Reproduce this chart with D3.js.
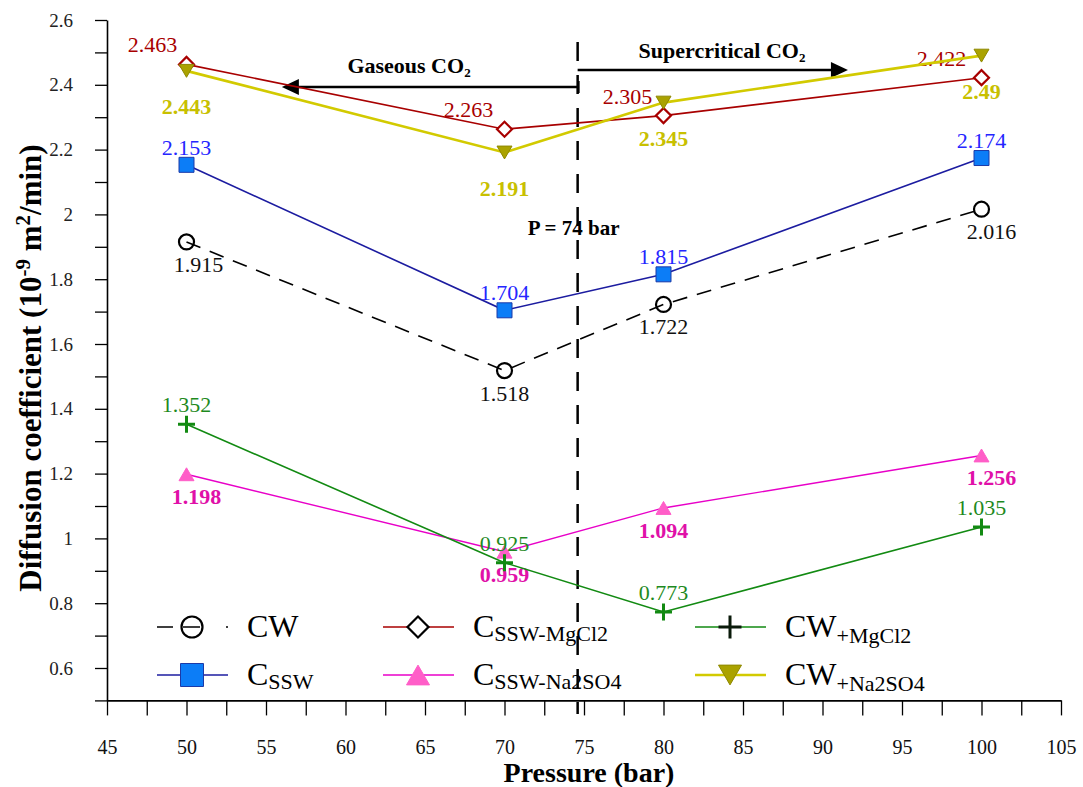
<!DOCTYPE html>
<html>
<head>
<meta charset="utf-8">
<script src="https://d3js.org/d3.v7.min.js"></script>
<style>
	body { margin: 0; background: #fff; }
	svg { display: block; font-family: "Liberation Serif", serif; }
	.tick text { font-family: "Liberation Serif", serif !important; }
</style>
</head>
<body>
<div id="chart-div"></div>
<script>
//Values

	//Pressure (bar) of every measurement
	var pressures = [50, 70, 80, 100];

	//Diffusion coefficients (10^-9 m2/min)
	var cw = [1.915, 1.518, 1.722, 2.016];
	var cssw = [2.153, 1.704, 1.815, 2.174];
	var csswMgCl2 = [2.463, 2.263, 2.305, 2.422];
	var csswNa2SO4 = [1.198, 0.959, 1.094, 1.256];
	var cwMgCl2 = [1.352, 0.925, 0.773, 1.035];
	var cwNa2SO4 = [2.443, 2.191, 2.345, 2.49];

	//Axis ticks
	var xTickLabels = [45, 50, 55, 60, 65, 70, 75, 80, 85, 90, 95, 100, 105];
	var yTickLabels = [0.6, 0.8, 1, 1.2, 1.4, 1.6, 1.8, 2, 2.2, 2.4, 2.6];

	//Phase boundary marker and the arrow ends (bar)
	var boundaryPressure = 74.6;
	var gaseousArrowEnd = 56;
	var supercriticalArrowEnd = 91.6;

//Series styles (kept apart from the values)
	var series = [
		{ key: "cw", values: cw, color: "#000", width: 1.6, dash: "15,10", marker: "circle", fill: "none", mstroke: "#000",
		  label: "#111", bold: false, dx: 0, dy: 30, nudge: [12, 0, 0, 10] },
		{ key: "cssw", values: cssw, color: "#1c1ca0", width: 1.6, dash: null, marker: "square", fill: "#0c7df7", mstroke: "#1c3aa8",
		  label: "#2525ff", bold: false, dx: 0, dy: -10, nudge: [0, 0, 0, 0] },
		{ key: "csswMg", values: csswMgCl2, color: "#a80000", width: 1.6, dash: null, marker: "diamond", fill: "#fff", mstroke: "#a80000",
		  label: "#a80000", bold: false, dx: -36, dy: -12, nudge: [2, 0, 0, -4] },
		{ key: "csswNa", values: csswNa2SO4, color: "#e800c8", width: 1.4, dash: null, marker: "triUp", fill: "#ff5ec8", mstroke: "#ff5ec8",
		  label: "#e010a8", bold: true, dx: 0, dy: 30, nudge: [10, 0, 0, 10] },
		{ key: "cwMg", values: cwMgCl2, color: "#128a12", width: 1.6, dash: null, marker: "plus", fill: "none", mstroke: "#128a12",
		  label: "#1e8a1e", bold: false, dx: 0, dy: -12, nudge: [0, 0, 0, 0] },
		{ key: "cwNa", values: cwNa2SO4, color: "#d2ca00", width: 2.6, dash: null, marker: "triDown", fill: "#aaa200", mstroke: "#8e8800",
		  label: "#c8c000", bold: true, dx: 0, dy: 43, nudge: [0, 0, 0, 0] }
	];

	//Legend entries: two rows of three
	var legendItems = [
		{ key: "cw", main: "CW", sub: "" },
		{ key: "csswMg", main: "C", sub: "SSW-MgCl2" },
		{ key: "cwMg", main: "CW", sub: "+MgCl2" },
		{ key: "cssw", main: "C", sub: "SSW" },
		{ key: "csswNa", main: "C", sub: "SSW-Na2SO4" },
		{ key: "cwNa", main: "CW", sub: "+Na2SO4" }
	];

//Canvas
	var w = 1083, h = 787;
	var svg = d3.select("#chart-div").append("svg")
		.attr("width", w)
		.attr("height", h);

	//Scales
	var x = d3.scaleLinear().domain([45, 105]).range([107, 1061]);
	var y = d3.scaleLinear().domain([0.5, 2.6]).range([700.4, 20]);

	//Marker shapes
	function markerPath(type, s) {
		switch (type) {
			case "circle": return d3.symbol(d3.symbolCircle, Math.PI * s * s / 4)();
			case "square": return d3.symbol(d3.symbolSquare, s * s)();
			case "diamond": return d3.symbol(d3.symbolSquare, s * s / 2)();
			case "triUp": return "M0," + (-s * 0.43) + "L" + (s / 2) + "," + (s * 0.43) + "L" + (-s / 2) + "," + (s * 0.43) + "Z";
			case "triDown": return "M0," + (s * 0.43) + "L" + (s / 2) + "," + (-s * 0.43) + "L" + (-s / 2) + "," + (-s * 0.43) + "Z";
			case "plus": return "M" + (-s / 2) + ",0H" + (s / 2) + "M0," + (-s / 2) + "V" + (s / 2);
		}
	}

	function drawMarker(g, st, s, cx, cy, strokeOverride) {
		g.append("path")
			.attr("d", markerPath(st.marker, s))
			.attr("transform", "translate(" + cx + "," + cy + ")" + (st.marker === "diamond" ? " rotate(45)" : ""))
			.attr("fill", st.fill)
			.attr("stroke", strokeOverride || st.mstroke)
			.attr("stroke-width", st.marker === "plus" ? 3 : (st.marker === "circle" || st.marker === "diamond" ? 2.2 : 1));
	}

//Axes
	var xAxis = d3.axisBottom(x)
		.tickValues(d3.range(45, 105.01, 2.5))
		.tickSize(15).tickSizeOuter(0).tickPadding(24)
		.tickFormat(function(d) { return xTickLabels.indexOf(d) >= 0 ? String(d) : ""; });

	var gx = svg.append("g")
		.attr("transform", "translate(0," + y(0.5) + ")")
		.call(xAxis)
		.attr("font-family", "Liberation Serif");
	gx.selectAll("text").attr("font-family", "Liberation Serif").attr("font-size", 20).attr("fill", "#111");

	var yAxis = d3.axisLeft(y)
		.tickValues(d3.range(5, 26.01, 1).map(function(d) { return d / 10; }))
		.tickSize(12).tickSizeOuter(0).tickPadding(22)
		.tickFormat(function(d) {
			var hit = yTickLabels.filter(function(t) { return Math.abs(t - d) < 1e-6; });
			return hit.length ? String(hit[0]) : "";
		});

	var gy = svg.append("g")
		.attr("transform", "translate(" + x(45) + ",0)")
		.call(yAxis)
		.attr("font-family", "Liberation Serif");
	gy.selectAll("text").attr("font-family", "Liberation Serif").attr("font-size", 19).attr("fill", "#222");

	svg.selectAll(".domain").attr("stroke", "#000").attr("stroke-width", 1.6);
	svg.selectAll(".tick line").attr("stroke", "#000").attr("stroke-width", 1.3);

	//Axis titles
	svg.append("text")
		.attr("x", 589).attr("y", 782)
		.attr("text-anchor", "middle")
		.attr("font-size", 28).attr("font-weight", "bold")
		.text("Pressure (bar)");

	var yTitle = svg.append("text")
		.attr("transform", "translate(41,368) rotate(-90)")
		.attr("text-anchor", "middle")
		.attr("font-size", 31).attr("font-weight", "bold");
	yTitle.append("tspan").text("Diffusion coefficient (10");
	yTitle.append("tspan").attr("font-size", 21).attr("dy", -11).text("-9");
	yTitle.append("tspan").attr("dy", 11).text(" m");
	yTitle.append("tspan").attr("font-size", 21).attr("dy", -11).text("2");
	yTitle.append("tspan").attr("dy", 11).text("/min)");

//Phase annotations
	var bx = x(boundaryPressure);

	svg.append("line")
		.attr("x1", bx).attr("x2", bx)
		.attr("y1", 42).attr("y2", 714)
		.attr("stroke", "#000").attr("stroke-width", 2.5)
		.attr("stroke-dasharray", "19,14");

	svg.append("text")
		.attr("x", bx - 4).attr("y", 235)
		.attr("text-anchor", "middle")
		.attr("font-size", 21).attr("font-weight", "bold")
		.text("P = 74 bar");

	//Gaseous arrow (points left)
	var gy1 = 87, gTip = x(gaseousArrowEnd);
	svg.append("line").attr("x1", bx).attr("x2", gTip + 16).attr("y1", gy1).attr("y2", gy1)
		.attr("stroke", "#000").attr("stroke-width", 2.5);
	svg.append("line").attr("x1", bx + 1).attr("x2", bx + 1).attr("y1", gy1 - 6).attr("y2", gy1 + 6)
		.attr("stroke", "#000").attr("stroke-width", 2);
	svg.append("path")
		.attr("d", "M" + gTip + "," + gy1 + "L" + (gTip + 17) + "," + (gy1 - 8) + "L" + (gTip + 17) + "," + (gy1 + 8) + "Z")
		.attr("fill", "#000");
	var gText = svg.append("text")
		.attr("x", 409).attr("y", 73)
		.attr("text-anchor", "middle")
		.attr("font-size", 22).attr("font-weight", "bold");
	gText.append("tspan").text("Gaseous CO");
	gText.append("tspan").attr("font-size", 13).attr("dy", 4).text("2");

	//Supercritical arrow (points right)
	var sy1 = 70, sTip = x(supercriticalArrowEnd);
	svg.append("line").attr("x1", bx).attr("x2", sTip - 16).attr("y1", sy1).attr("y2", sy1)
		.attr("stroke", "#000").attr("stroke-width", 2.5);
	svg.append("path")
		.attr("d", "M" + sTip + "," + sy1 + "L" + (sTip - 17) + "," + (sy1 - 8) + "L" + (sTip - 17) + "," + (sy1 + 8) + "Z")
		.attr("fill", "#000");
	var sText = svg.append("text")
		.attr("x", 722).attr("y", 58)
		.attr("text-anchor", "middle")
		.attr("font-size", 22).attr("font-weight", "bold");
	sText.append("tspan").text("Supercritical CO");
	sText.append("tspan").attr("font-size", 13).attr("dy", 4).text("2");

//Series lines, markers and value labels
	var line = d3.line()
		.x(function(d) { return x(d.p); })
		.y(function(d) { return y(d.v); });

	series.forEach(function(st) {
		var pts = pressures.map(function(p, i) { return { p: p, v: st.values[i] }; });
		var g = svg.append("g").attr("class", "series " + st.key);

		g.append("path")
			.datum(pts)
			.attr("d", line)
			.attr("fill", "none")
			.attr("stroke", st.color)
			.attr("stroke-width", st.width)
			.attr("stroke-dasharray", st.dash);

		pts.forEach(function(d) {
			drawMarker(g, st, st.marker === "plus" ? 17 : 15, x(d.p), y(d.v));
		});

		g.selectAll("text.val")
			.data(pts)
			.enter()
		.append("text")
			.attr("class", "val")
			.attr("x", function(d, i) { return x(d.p) + st.dx + st.nudge[i]; })
			.attr("y", function(d) { return y(d.v) + st.dy; })
			.attr("text-anchor", "middle")
			.attr("font-size", 22)
			.attr("font-weight", st.bold ? "bold" : "normal")
			.attr("fill", st.label)
			.text(function(d) { return String(d.v); });
	});

//Legend
	var legendCols = [157, 383, 695], legendRows = [627, 675];
	var legend = svg.append("g").attr("class", "legend");

	legendItems.forEach(function(item, i) {
		var st = series.filter(function(s) { return s.key === item.key; })[0];
		var lx = legendCols[i % 3], ly = legendRows[Math.floor(i / 3)];

		legend.append("line")
			.attr("x1", lx).attr("x2", lx + 71).attr("y1", ly).attr("y2", ly)
			.attr("stroke", st.color).attr("stroke-width", st.width)
			.attr("stroke-dasharray", st.dash ? "16,10,17,26,3" : null);

		var size = st.marker === "circle" ? 21 : (st.marker === "diamond" ? 21 : 23);
		drawMarker(legend, st, size, lx + 35, ly, st.marker === "plus" ? "#0a1a0a" : (st.marker === "diamond" ? "#000" : null));

		var t = legend.append("text")
			.attr("x", lx + 90).attr("y", ly + 10)
			.attr("font-size", 32)
			.attr("fill", "#000");
		t.append("tspan").text(item.main);
		if (item.sub) {
			t.append("tspan").attr("font-size", 22).attr("dy", item.main === "CW" ? 6 : 4).text(item.sub);
		}
	});
</script>
</body>
</html>
